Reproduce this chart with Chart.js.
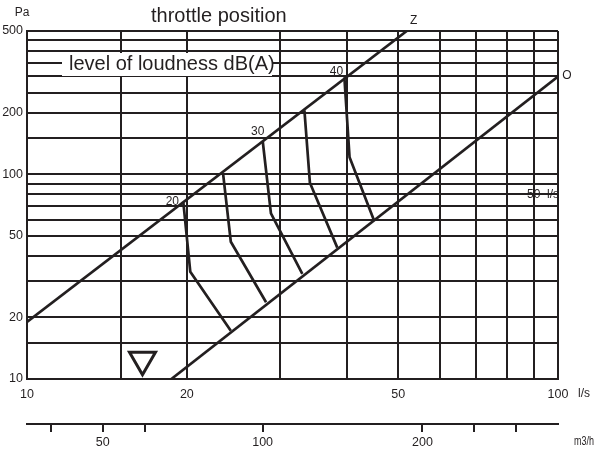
<!DOCTYPE html>
<html>
<head>
<meta charset="utf-8">
<script src="https://cdn.jsdelivr.net/npm/chart.js@4.4.1/dist/chart.umd.min.js"></script>
<style>
  html, body { margin: 0; padding: 0; background: #fff; }
  canvas { display: block; }
</style>
</head>
<body>
<canvas id="chart" width="600" height="451"></canvas>
<script>
// grid / tick values
const xTicks = [10, 15, 20, 30, 40, 50, 60, 70, 80, 90, 100];
const xLabels = [10, 20, 50, 100];
const yTicks = [10, 15, 20, 30, 40, 50, 60, 70, 80, 90, 100, 150, 200, 250, 300, 350, 400, 450, 500];
const yLabels = [10, 20, 50, 100, 200, 500];
const m3hTicks = [40, 50, 60, 100, 200, 250, 300];
const m3hLabels = [50, 100, 200];

// throttle position lines (l/s, Pa)
const lineZ = [[10, 19], [51.9, 500]];
const lineO = [[18.7, 10], [100, 300]];

// level of loudness curves dB(A)
const curve20 = [[19.7, 72.6], [20.3, 33.4], [24.2, 17.2]];
const curve25 = [[23.4, 101], [24.2, 46.8], [28.2, 23.7]];
const curve30 = [[27.8, 144], [28.8, 64.4], [33.0, 32.6]];
const curve35 = [[33.3, 205], [34.1, 90.9], [38.4, 43.8]];
const curve40 = [[39.6, 297], [40.5, 121], [45.0, 59.7]];

const marker = [[16.5, 12.4]];

const ink = "#231f20";
const tickFont = { family: "'Liberation Sans Narrow', 'Liberation Sans', Arial, sans-serif", size: 12.5 };

const toPts = arr => arr.map(p => ({ x: p[0], y: p[1] }));

function lineSet(arr) {
  return {
    data: toPts(arr),
    showLine: true,
    borderColor: ink,
    borderWidth: 2.7,
    pointRadius: 0,
    tension: 0
  };
}

// texts and curve labels
const textPlugin = {
  id: "texts",
  afterDatasetsDraw(chart) {
    const ctx = chart.ctx;
    const xs = chart.scales.x, ys = chart.scales.y;
    const px = p => [xs.getPixelForValue(p[0]), ys.getPixelForValue(p[1])];
    ctx.save();
    ctx.fillStyle = ink;
    ctx.textBaseline = "middle";
    ctx.textAlign = "center";
    ctx.font = "12px 'Liberation Sans Narrow', 'Liberation Sans', Arial, sans-serif";

    const put = (t, p, dx, dy) => {
      const q = px(p);
      ctx.fillText(t, q[0] + dx, q[1] + dy);
    };
    put("20", curve20[0], -11, -1);
    put("30", curve30[0], -5, -10);
    put("40", curve40[0], -8, -6);
    put("Z", lineZ[1], 7, -10);
    put("O", lineO[1], 9, -1);

    ctx.fillText("Pa", 22, 13);
    ctx.textAlign = "left";
    ctx.fillText("50  l/s", 527, 195);
    ctx.fillText("l/s", 578, 394);
    ctx.fillText("m3/h", 574, 442, 20);

    // legend box
    ctx.fillStyle = "#fff";
    ctx.fillRect(62, 53, 210, 23);
    ctx.fillStyle = ink;
    ctx.font = "20px 'Liberation Sans', Arial, sans-serif";
    ctx.fillText("level of loudness dB(A)", 69, 64);
    ctx.fillText("throttle position", 151, 16);
    ctx.restore();
  }
};

new Chart(document.getElementById("chart"), {
  type: "scatter",
  data: {
    datasets: [
      lineSet(lineZ),
      lineSet(lineO),
      lineSet(curve20),
      lineSet(curve25),
      lineSet(curve30),
      lineSet(curve35),
      lineSet(curve40),
      {
        data: toPts(marker),
        pointStyle: "triangle",
        rotation: 180,
        pointRadius: 15,
        borderWidth: 3,
        borderColor: ink,
        backgroundColor: "rgba(0,0,0,0)"
      }
    ]
  },
  options: {
    responsive: false,
    animation: false,
    events: [],
    layout: { padding: { left: 0, top: 31, right: 42, bottom: 0 } },
    plugins: { legend: { display: false }, tooltip: { enabled: false } },
    scales: {
      x: {
        type: "logarithmic",
        position: "bottom",
        min: 10,
        max: 100,
        afterBuildTicks: s => { s.ticks = xTicks.map(v => ({ value: v })); },
        afterFit: s => { s.height = 45; },
        ticks: {
          autoSkip: false,
          maxRotation: 0,
          padding: 8,
          color: ink,
          font: tickFont,
          callback: v => xLabels.includes(v) ? String(v) : ""
        },
        grid: { color: ink, lineWidth: 2, drawTicks: false },
        border: { color: ink, width: 2 }
      },
      x2: {
        type: "logarithmic",
        position: "bottom",
        min: 36,
        max: 360,
        afterBuildTicks: s => { s.ticks = m3hTicks.map(v => ({ value: v })); },
        afterFit: s => { s.height = 27; },
        ticks: {
          autoSkip: false,
          maxRotation: 0,
          padding: 3,
          color: ink,
          font: tickFont,
          callback: v => m3hLabels.includes(v) ? String(v) : ""
        },
        grid: { color: ink, lineWidth: 2, drawOnChartArea: false, drawTicks: true, tickLength: 8 },
        border: { color: ink, width: 2 }
      },
      y: {
        type: "logarithmic",
        min: 10,
        max: 500,
        afterBuildTicks: s => { s.ticks = yTicks.map(v => ({ value: v })); },
        afterFit: s => { s.width = 27; },
        ticks: {
          autoSkip: false,
          padding: 4,
          color: ink,
          font: tickFont,
          callback: v => yLabels.includes(v) ? String(v) : ""
        },
        grid: { color: ink, lineWidth: 2, drawTicks: false },
        border: { color: ink, width: 2 }
      }
    }
  },
  plugins: [textPlugin]
});
</script>
</body>
</html>
